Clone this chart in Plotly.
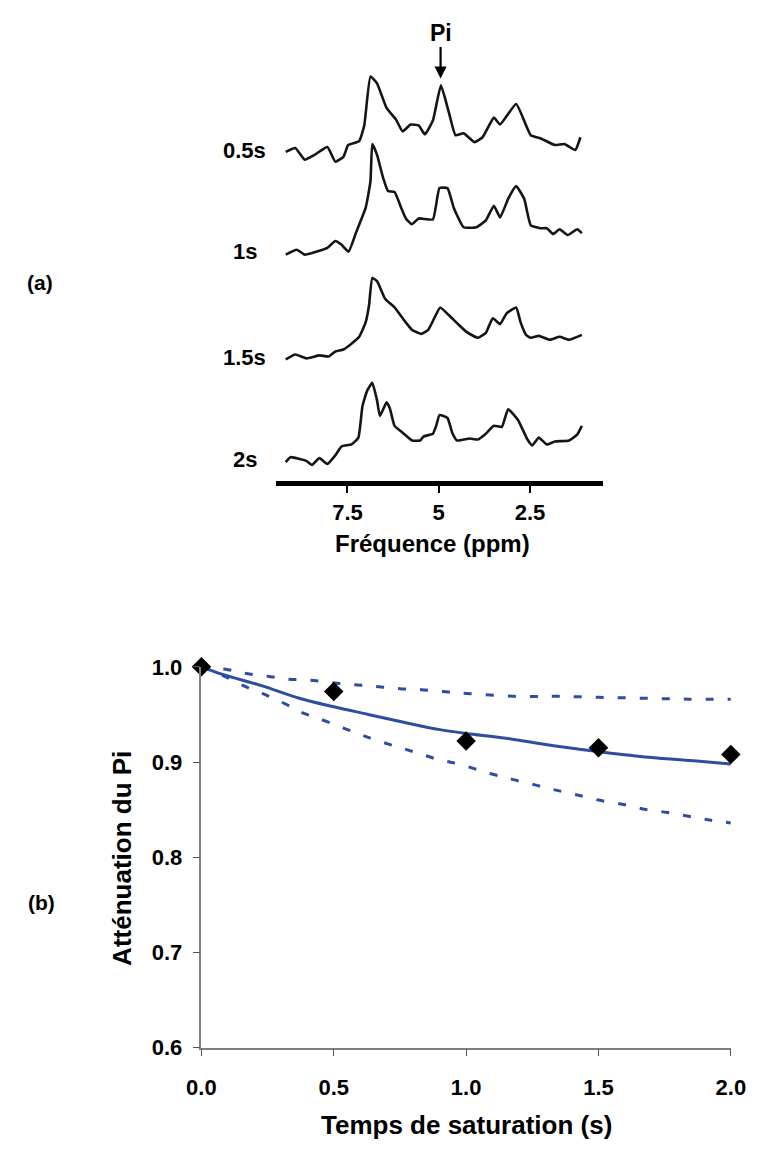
import plotly.graph_objects as go

W, H = 767, 1155

# ---------------- (a) spectra data (ppm, intensity a.u.) ----------------
ppm_05 = [9.19, 8.93, 8.67, 8.40, 8.05, 7.83, 7.61, 7.48, 7.18, 7.04, 6.87, 6.69, 6.43, 6.17, 5.99, 5.77, 5.55,
          5.38, 5.16, 4.94, 4.72, 4.54, 4.32, 4.02, 3.80, 3.49, 3.32, 2.88, 2.48, 2.22, 1.82, 1.56, 1.26, 1.12]
int_05 = [0, 4, -8, -3, 5, -10, -5, 7, 11, 27, 77, 70, 45, 33, 21, 28, 27,
          18, 32, 68, 40, 17, 19, 10, 15, 35, 28, 49, 17, 14, 7, 8, 2, 15]

ppm_1 = [9.19, 8.89, 8.67, 8.36, 8.05, 7.83, 7.66, 7.47, 7.26, 7.00, 6.87, 6.82, 6.69, 6.52, 6.39, 6.21, 6.03,
         5.90, 5.74, 5.55, 5.16, 4.98, 4.76, 4.59, 4.32, 3.97, 3.71, 3.49, 3.32, 3.10, 2.88, 2.66, 2.48, 2.22,
         2.04, 1.87, 1.69, 1.47, 1.21, 1.08]
int_1 = [0, 5, 0, 3, 7, 14, 10, 3, 23, 48, 75, 113, 102, 78, 65, 64, 48,
         37, 31, 37, 36, 68, 68, 48, 28, 28, 35, 50, 38, 57, 70, 57, 30, 27,
         27, 21, 26, 20, 26, 22]

ppm_15 = [9.19, 8.93, 8.62, 8.27, 8.01, 7.83, 7.61, 7.39, 7.18, 7.00, 6.91, 6.82, 6.69, 6.47, 6.21, 5.95, 5.73,
          5.47, 5.29, 5.11, 4.96, 4.72, 4.50, 4.24, 3.93, 3.71, 3.52, 3.32, 3.14, 2.88, 2.76, 2.61, 2.48, 2.26,
          1.96, 1.69, 1.43, 1.08]
int_15 = [0, 5, 1, 4, 3, 8, 10, 16, 23, 38, 55, 83, 80, 62, 53, 40, 30,
          26, 30, 43, 53, 45, 37, 28, 22, 27, 42, 36, 47, 53, 38, 25, 22, 24,
          20, 23, 20, 25]

ppm_2 = [9.19, 9.06, 8.80, 8.62, 8.47, 8.27, 8.05, 7.83, 7.66, 7.39, 7.20, 7.09, 6.96, 6.82, 6.69, 6.61, 6.43,
         6.34, 6.21, 5.99, 5.73, 5.51, 5.42, 5.16, 5.07, 4.98, 4.76, 4.63, 4.50, 4.15, 3.93, 3.71, 3.49, 3.27,
         3.10, 2.83, 2.57, 2.44, 2.26, 2.04, 1.82, 1.43, 1.21, 1.08]
int_2 = [0, 5, 3, 1, -3, 4, -2, 7, 16, 18, 25, 57, 73, 81, 63, 47, 61,
         55, 37, 30, 22, 22, 26, 29, 37, 48, 45, 30, 22, 24, 23, 29, 37, 36,
         54, 43, 23, 17, 25, 18, 21, 22, 28, 37]

spectra_labels = ["0.5s", "1s", "1.5s", "2s"]
ppm_ticks = [7.5, 5, 2.5]
ppm_tick_text = ["7.5", "5", "2.5"]

# ---------------- (b) attenuation data ----------------
t_points = [0.0, 0.5, 1.0, 1.5, 2.0]
att_points = [1.0, 0.974, 0.922, 0.915, 0.908]

t_fit = [0, 0.08, 0.23, 0.37, 0.5, 0.63, 0.76, 0.9, 1.0, 1.15, 1.33, 1.5, 1.69, 1.87, 2.0]
att_fit = [1.0, 0.992, 0.980, 0.967, 0.958, 0.950, 0.942, 0.934, 0.930, 0.925, 0.917, 0.911, 0.905, 0.901, 0.898]

t_upper = [0, 0.1, 0.17, 0.25, 0.33, 0.41, 0.5, 0.59, 0.67, 0.75, 0.83, 0.91, 1.0, 1.18, 1.34, 1.5, 1.67, 1.84, 2.0]
att_upper = [1.0, 0.997, 0.993, 0.990, 0.987, 0.986, 0.983, 0.981, 0.979, 0.977, 0.976, 0.974, 0.972, 0.969,
             0.969, 0.968, 0.967, 0.966, 0.966]

t_lower = [0, 0.08, 0.16, 0.23, 0.31, 0.38, 0.45, 0.58, 0.66, 0.74, 0.81, 0.89, 0.97, 1.09, 1.17, 1.26, 1.33,
           1.41, 1.50, 1.60, 1.68, 1.76, 1.84, 1.92, 2.0]
att_lower = [1.0, 0.991, 0.980, 0.972, 0.962, 0.952, 0.945, 0.931, 0.923, 0.916, 0.910, 0.903, 0.898, 0.888,
             0.882, 0.876, 0.871, 0.866, 0.860, 0.855, 0.850, 0.847, 0.843, 0.839, 0.836]

# ---------------- layout helpers ----------------
def px(x, y):
    return x / W, 1 - y / H

TOP_Y0, TOP_Y1 = 40, 479.5          # pixel rows of top panel
baselines = [143, 248, 355, 460]    # vertical stacking of spectra (pixel rows)
BLUE = "#2E4DA0"
FONT = "Liberation Sans, Arial, sans-serif"

fig = go.Figure()

for ppm, inten, base in zip([ppm_05, ppm_1, ppm_15, ppm_2], [int_05, int_1, int_15, int_2], baselines):
    fig.add_trace(go.Scatter(x=ppm, y=[v - base for v in inten], mode="lines",
                             line=dict(color="#151515", width=2.6, shape="spline", smoothing=0.4),
                             xaxis="x", yaxis="y", showlegend=False, hoverinfo="skip"))

fig.add_trace(go.Scatter(x=t_upper, y=att_upper, mode="lines", line=dict(color=BLUE, width=3, dash="8px,14px", shape="spline"),
                         xaxis="x2", yaxis="y2", showlegend=False))
fig.add_trace(go.Scatter(x=t_lower, y=att_lower, mode="lines", line=dict(color=BLUE, width=3, dash="8px,14px", shape="spline"),
                         xaxis="x2", yaxis="y2", showlegend=False))
fig.add_trace(go.Scatter(x=t_fit, y=att_fit, mode="lines", line=dict(color=BLUE, width=3, shape="spline"),
                         xaxis="x2", yaxis="y2", showlegend=False))
fig.add_trace(go.Scatter(x=t_points, y=att_points, mode="markers",
                         marker=dict(symbol="diamond", size=15, color="black"),
                         xaxis="x2", yaxis="y2", showlegend=False, cliponaxis=False))

annotations = []
def label(text, x, y, size, angle=0):
    ax, ay = px(x, y)
    annotations.append(dict(text=text, x=ax, y=ay, xref="paper", yref="paper", showarrow=False,
                            xanchor="center", yanchor="middle", textangle=angle,
                            font=dict(family=FONT, size=size, color="black", weight="bold")))

for txt, y in zip(spectra_labels, [142, 245, 353, 457]):
    label(txt, 239, y, 22)
label("(a)", 26, 276, 21)
label("(b)", 28, 910, 21)
label("Fréquence (ppm)", 434, 543, 24)
label("Atténuation du Pi", 112, 865, 26, angle=-90)
label("Temps de saturation (s)", 470, 1138, 26)

# Pi arrow
annotations.append(dict(text="Pi", x=4.95, y=-68, xref="x", yref="y", showarrow=True,
                        ax=0, ay=-46, arrowhead=2, arrowsize=1.1, arrowwidth=2.2, arrowcolor="black",
                        font=dict(family=FONT, size=23, color="black", weight="bold")))

d_top_x = [272 / W, 612 / W]
d_top_y = [1 - TOP_Y1 / H, 1 - TOP_Y0 / H]
d_bot_x = [194 / W, 745 / W]
d_bot_y = [1 - 1058.5 / H, 1 - 669.3 / H]

tickfont = dict(family=FONT, size=22, color="black", weight="bold")

fig.update_layout(
    autosize=True, margin=dict(l=0, r=0, t=0, b=0),
    paper_bgcolor="white", plot_bgcolor="white",
    annotations=annotations,
    xaxis=dict(domain=d_top_x, range=[9.447, 0.5], showline=True, linewidth=5, linecolor="black",
               ticks="outside", ticklen=7, tickwidth=2, tickcolor="black",
               tickvals=ppm_ticks, ticktext=ppm_tick_text, tickfont=tickfont,
               showgrid=False, zeroline=False, anchor="y"),
    yaxis=dict(domain=d_top_y, range=[-TOP_Y1, -TOP_Y0], visible=False, anchor="x"),
    xaxis2=dict(domain=d_bot_x, range=[0, 2], showline=True, linewidth=1.5, linecolor="#808080",
                ticks="outside", ticklen=7, tickwidth=1.2, tickcolor="#555555",
                tickvals=[0, 0.5, 1.0, 1.5, 2.0], ticktext=["0.0", "0.5", "1.0", "1.5", "2.0"],
                tickfont=tickfont, ticklabelstandoff=12,
                showgrid=False, zeroline=False, anchor="y2"),
    yaxis2=dict(domain=d_bot_y, range=[0.6, 1.0], showline=True, linewidth=1.5, linecolor="#808080",
                ticks="outside", ticklen=7, tickwidth=1.2, tickcolor="#555555",
                tickvals=[0.6, 0.7, 0.8, 0.9, 1.0], ticktext=["0.6", "0.7", "0.8", "0.9", "1.0"],
                tickfont=tickfont, ticklabelstandoff=6,
                showgrid=False, zeroline=False, anchor="x2"),
)

fig.write_html("out.html",
               default_width="100vw", default_height="100vh",
               config={"displayModeBar": False, "responsive": True},
               post_script="document.body.style.margin='0';document.body.style.overflow='hidden';"
                           "Plotly.Plots.resize(document.getElementById('{plot_id}'));")
